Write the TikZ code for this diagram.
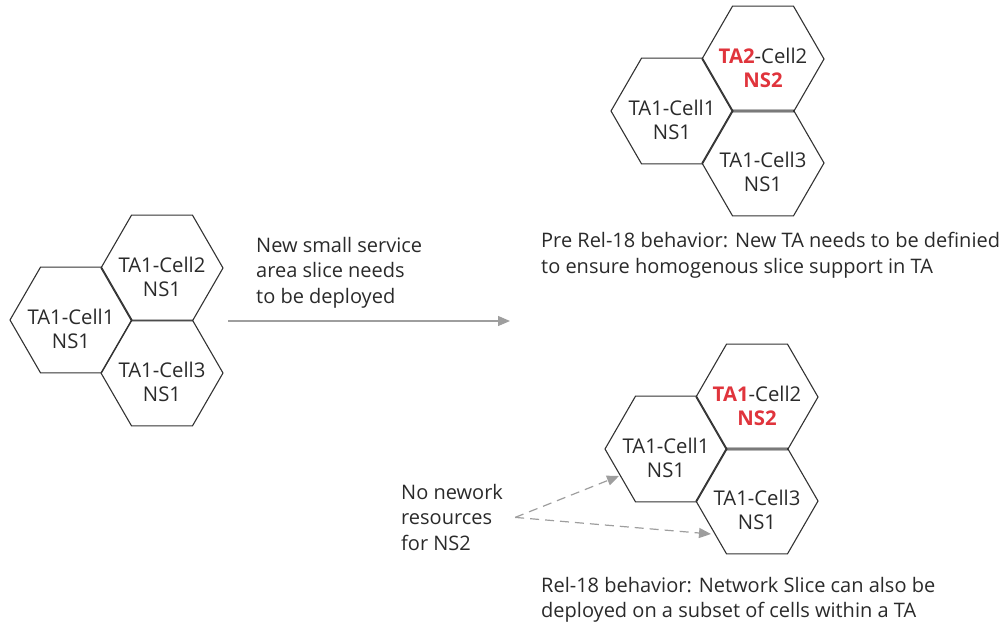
\documentclass[tikz,border=0pt]{standalone}
\usepackage{fontspec}
\setmainfont{Open Sans}
\usetikzlibrary{shapes.geometric,arrows.meta,calc}
\definecolor{ink}{HTML}{2A2A2A}
\definecolor{hexline}{HTML}{333333}
\definecolor{flowgray}{HTML}{9E9E9E}
\definecolor{alert}{HTML}{E0343C}

\begin{document}
\begin{tikzpicture}[x=1pt,y=-1pt,
  hexcell/.style={regular polygon, regular polygon sides=6, minimum size=122pt,
    inner sep=0pt, outer sep=0pt, draw=hexline, line width=1.1pt},
  celltext/.style={align=center, text=ink, font=\fontsize{20.3}{24}\selectfont, inner sep=0pt},
  note/.style={align=left, text=ink, font=\fontsize{20}{25.5}\selectfont,
    inner sep=0pt, anchor=north west},
  flow/.style={draw=flowgray, line width=1.2pt, -{Triangle[length=12pt,width=10pt]}},
  hint/.style={flow, dash pattern=on 9pt off 6pt}
]
\useasboundingbox (0,0) rectangle (1008,624);

% initial deployment: one TA, NS1 everywhere
\node[hexcell] (l1) at (71,320) {};
\node[hexcell] (l2) at (162,268) {};
\node[hexcell] (l3) at (162,373) {};
\node[celltext] (l1t) at ($(l1)+(0,9)$) {TA1-Cell1\\NS1};
\node[celltext] (l2t) at ($(l2)+(0,9)$) {TA1-Cell2\\NS1};
\node[celltext] (l3t) at ($(l3)+(0,9)$) {TA1-Cell3\\NS1};

% pre Rel-18: the NS2 cell moves to its own TA
\node[hexcell] (t1) at (672,111) {};
\node[hexcell] (t2) at (763,59) {};
\node[hexcell] (t3) at (763,163) {};
\node[celltext] (t1t) at ($(t1)+(0,9)$) {TA1-Cell1\\NS1};
\node[celltext] (t2t) at ($(t2)+(0,9)$) {\textcolor{alert}{\bfseries TA2}-Cell2\\\textcolor{alert}{\bfseries NS2}};
\node[celltext] (t3t) at ($(t3)+(0,9)$) {TA1-Cell3\\NS1};

% Rel-18: NS2 on a subset of cells of the same TA
\node[hexcell] (b1) at (666,449) {};
\node[hexcell] (b2) at (757,397) {};
\node[hexcell] (b3) at (757,501) {};
\node[celltext] (b1t) at ($(b1)+(0,9)$) {TA1-Cell1\\NS1};
\node[celltext] (b2t) at ($(b2)+(0,9)$) {\textcolor{alert}{\bfseries TA1}-Cell2\\\textcolor{alert}{\bfseries NS2}};
\node[celltext] (b3t) at ($(b3)+(0,9)$) {TA1-Cell3\\NS1};

% captions
\node[note] (need) at (256,237) {New small service\\area slice needs\\to be deployed};
\node[note] (pre) at (541,232) {Pre Rel-18 behavior: New TA needs to be definied\\to ensure homogenous slice support in TA};
\node[note] (rel) at (541,577) {Rel-18 behavior: Network Slice can also be\\deployed on a subset of cells within a TA};
\node[note] (nores) at (401,484) {No nework\\resources\\for NS2};

% main transition arrow
\coordinate (flowstart) at (228,321);
\coordinate (flowend) at (510,321);
\draw[flow] (flowstart) -- (flowend);

% cells lacking NS2 resources
\coordinate (tipa) at (619,476);
\coordinate (tipb) at (711,534);
\coordinate (hintsrc) at ($(nores.east)+(12,0)$);
\draw[hint] (hintsrc) -- (tipa);
\draw[hint] (hintsrc) -- (tipb);
\end{tikzpicture}
\end{document}
